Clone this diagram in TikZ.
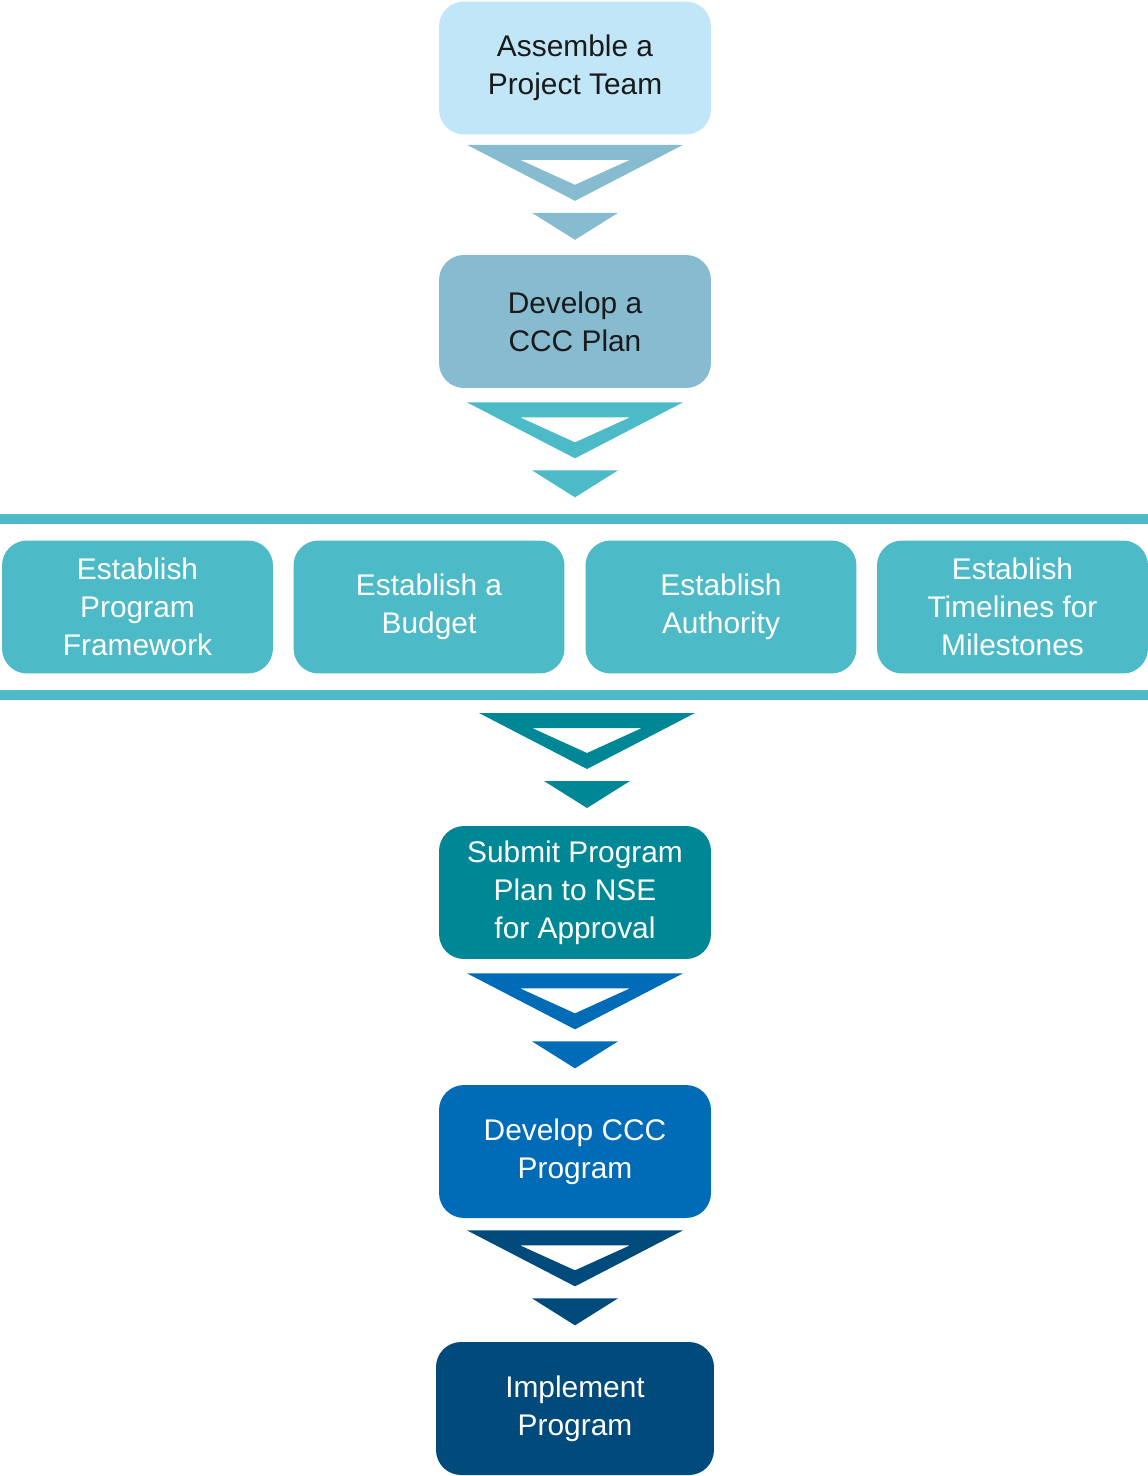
\documentclass[tikz,border=0pt]{standalone}
\usepackage{fontspec}
\setmainfont{Liberation Sans}
\usetikzlibrary{calc,positioning}

\definecolor{paleblue}{HTML}{C1E6F7}
\definecolor{greyblue}{HTML}{86BBD0}
\definecolor{lightteal}{HTML}{4DBAC7}
\definecolor{deepteal}{HTML}{008796}
\definecolor{midblue}{HTML}{006BB6}
\definecolor{navyblue}{HTML}{004A7C}
\definecolor{inkdark}{HTML}{1A1A1A}

\begin{document}
\begin{tikzpicture}[x=0.02cm,y=-0.02cm]
    \tikzset{stepbox/.style={rounded corners=0.5cm,
        minimum width=5.44cm,
        minimum height=2.66cm,
        inner sep=0pt,
        align=center,
        font=\fontsize{17}{21.6}\selectfont},
      band/.style={draw=lightteal, line width=0.2cm},
      chevron/.pic={
        \fill[even odd rule] (-108,0) -- (108,0) -- (0,56) -- cycle
          (-55,15) -- (55,15) -- (0,40) -- cycle;
        \fill (-43,68) -- (43,68) -- (0,95) -- cycle;}}
    \useasboundingbox (0,0) rectangle (1148,1476);
    \node[stepbox, fill=paleblue, text=inkdark] (assemble) at (575,68) {Assemble a\\Project Team};
    \node[stepbox, fill=greyblue, text=inkdark] (cccplan) at (575,321.5) {Develop a\\CCC Plan};
    % the four parallel tasks between two bars
    \draw[band] (0,519) -- (1148,519);
    \draw[band] (0,695) -- (1148,695);
    \node[stepbox, fill=lightteal, text=white, minimum width=5.42cm] (framework) at (137.5,607) {Establish\\Program\\Framework};
    \node[stepbox, fill=lightteal, text=white, minimum width=5.42cm] (budget) at (429,607) {Establish a\\Budget};
    \node[stepbox, fill=lightteal, text=white, minimum width=5.42cm] (authority) at (721,607) {Establish\\Authority};
    \node[stepbox, fill=lightteal, text=white, minimum width=5.42cm] (timelines) at (1012.5,607) {Establish\\Timelines for\\Milestones};
    \coordinate (barend) at (587,713);
    \node[stepbox, fill=deepteal, text=white] (submit) at (575,892.5) {Submit Program\\Plan to NSE\\for Approval};
    \node[stepbox, fill=midblue, text=white] (cccprogram) at (575,1151.5) {Develop CCC\\Program};
    \node[stepbox, fill=navyblue, text=white, minimum width=5.56cm] (implement) at (575,1408.5) {Implement\\Program};
    % chevrons
    \pic[color=greyblue] at ($(assemble.south)+(0,10)$) {chevron};
    \pic[color=lightteal] at ($(cccplan.south)+(0,14)$) {chevron};
    \pic[color=deepteal] at (barend) {chevron};
    \pic[color=midblue] at ($(submit.south)+(0,14)$) {chevron};
    \pic[color=navyblue] at ($(cccprogram.south)+(0,12)$) {chevron};
  \end{tikzpicture}
\end{document}
